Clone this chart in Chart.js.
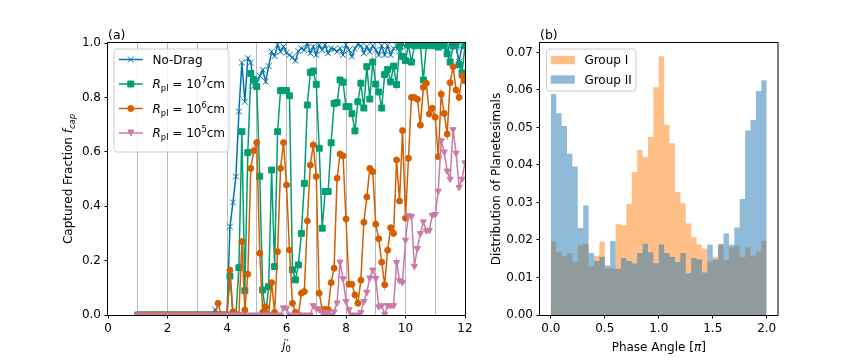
<!DOCTYPE html>
<html>
<head>
<meta charset="utf-8">
<script src="https://cdn.jsdelivr.net/npm/chart.js@4.4.0/dist/chart.umd.min.js"></script>
<style>
  html, body { margin: 0; padding: 0; background: #fff; }
  #wrap { position: relative; width: 864px; height: 360px; overflow: hidden; }
  canvas { position: absolute; top: 0; }
  #capChart { left: 0; }
  #phaseChart { left: 480px; }
</style>
</head>
<body>
<div id="wrap">
  <canvas id="capChart" width="480" height="360"></canvas>
  <canvas id="phaseChart" width="384" height="360"></canvas>
</div>
<script>
// ---- panel (a): captured fraction vs j0'
const jVals = [
  1.0, 1.1, 1.2, 1.3, 1.4, 1.5, 1.6, 1.7, 1.8, 1.9,
  2.0, 2.1, 2.2, 2.3, 2.4, 2.5, 2.6, 2.7, 2.8, 2.9,
  3.0, 3.1, 3.2, 3.3, 3.4, 3.5, 3.6, 3.7, 3.8, 3.9,
  4.0, 4.1, 4.2, 4.3, 4.4, 4.5, 4.6, 4.7, 4.8, 4.9,
  5.0, 5.1, 5.2, 5.3, 5.4, 5.5, 5.6, 5.7, 5.8, 5.9,
  6.0, 6.1, 6.2, 6.3, 6.4, 6.5, 6.6, 6.7, 6.8, 6.9,
  7.0, 7.1, 7.2, 7.3, 7.4, 7.5, 7.6, 7.7, 7.8, 7.9,
  8.0, 8.1, 8.2, 8.3, 8.4, 8.5, 8.6, 8.7, 8.8, 8.9,
  9.0, 9.1, 9.2, 9.3, 9.4, 9.5, 9.6, 9.7, 9.8, 9.9,
  10.0, 10.1, 10.2, 10.3, 10.4, 10.5, 10.6, 10.7, 10.8, 10.9,
  11.0, 11.1, 11.2, 11.3, 11.4, 11.5, 11.6, 11.7, 11.8, 11.9,
  12.0
];

const noDrag = [
  0, 0, 0, 0, 0, 0, 0, 0, 0, 0,
  0, 0, 0, 0, 0, 0, 0, 0, 0, 0,
  0, 0, 0, 0, 0, 0, 0.02, 0, 0, 0,
  0, 0.325, 0.414, 0.509, 0.748, 0.928, 0.784, 0.944, 0.928, 0.842,
  0.854, 0.879, 0.901, 0.858, 0.915, 0.968, 0.952, 0.993, 0.968, 0.987,
  0.964, 0.956, 0.947, 0.935, 0.97, 0.98, 0.974, 0.999, 0.962, 0.987,
  0.956, 0.993, 0.974, 0.993, 0.962, 0.98, 0.977, 0.968, 0.98, 0.956,
  0.993, 0.974, 0.95, 0.98, 0.995, 0.99, 0.962, 0.987, 0.968, 0.99,
  0.975, 0.956, 0.99, 0.956, 0.99, 0.956, 0.98, 0.99, 0.97, 1.0,
  0.985, 0.995, 0.99, 1.0, 0.99, 1.0, 0.995, 1.0, 0.99, 1.0,
  0.995, 1.0, 0.99, 1.0, 0.965, 1.0, 0.99, 0.985, 0.93, 0.99,
  1.0
];

const rpl1e7 = [
  0, 0, 0, 0, 0, 0, 0, 0, 0, 0,
  0, 0, 0, 0, 0, 0, 0, 0, 0, 0,
  0, 0, 0, 0, 0, 0, 0, 0, 0, 0,
  0, 0.143, 0, 0, 0.174, 0.674, 0.089, 0.597, 0.888, 0.866,
  0.84, 0.51, 0.092, 0, 0.104, 0.533, 0.178, 0.674, 0.825, 0.825,
  0.825, 0.806, 0.166, 0.129, 0.184, 0.30, 0.484, 0.772, 0.892, 0.897,
  0.848, 0.613, 0.319, 0.454, 0.454, 0.633, 0.778, 0.781, 0.864, 0.856,
  0.766, 0.766, 0.74, 0.677, 0.784, 0.852, 0.761, 0.913, 0.794, 0.93,
  0.849, 0.82, 0.761, 0.884, 0.903, 0.857, 0.915, 0.847, 0.987, 0.95,
  0.935, 0.995, 0.93, 0.99, 0.995, 0.99, 0.864, 0.99, 0.995, 0.99,
  0.995, 0.985, 0.995, 0.99, 0.96, 0.93, 0.99, 0.995, 0.92, 0.89,
  0.99
];

const rpl1e6 = [
  0, 0, 0, 0, 0, 0, 0, 0, 0, 0,
  0, 0, 0, 0, 0, 0, 0, 0, 0, 0,
  0, 0, 0, 0, 0, 0, 0, 0.043, 0, 0,
  0, 0.165, 0.012, 0, 0, 0.27, 0.018, 0.15, 0.539, 0.604,
  0.634, 0.227, 0.01, 0.03, 0, 0.119, 0.01, 0.233, 0.539, 0.634,
  0.478, 0.239, 0.043, 0.01, 0, 0.08, 0.086, 0.346, 0.551, 0.625,
  0.509, 0.08, 0.02, 0.02, 0.02, 0.119, 0.172, 0.503, 0.592, 0.585,
  0.353, 0.113, 0.113, 0.074, 0.043, 0.128, 0.341, 0.434, 0.539, 0.527,
  0.334, 0.28, 0.194, 0.111, 0.238, 0.321, 0.30, 0.57, 0.419, 0.678,
  0.356, 0.576, 0.80, 0.80, 0.793, 0.698, 0.837, 0.852, 0.739, 0.76,
  0.727, 0.582, 0.812, 0.741, 0.665, 0.854, 0.913, 0.827, 0.8, 0.879,
  0.86
];

const rpl1e5 = [
  0, 0, 0, 0, 0, 0, 0, 0, 0, 0,
  0, 0, 0, 0, 0, 0, 0, 0, 0, 0,
  0, 0, 0, 0, 0, 0, 0, 0, 0, 0,
  0, 0, 0, 0, 0, 0, 0, 0, 0, 0,
  0, 0, 0, 0, 0, 0, 0, 0, 0, 0.027,
  0.025, 0, 0, 0, 0, 0, 0, 0, 0, 0.035,
  0.025, 0.02, 0.01, 0, 0.01, 0, 0.012, 0.045, 0.195, 0.134,
  0.05, 0.02, 0, 0, 0, 0.01, 0.05, 0.084, 0.137, 0.166,
  0.135, 0.031, 0.035, 0.003, 0.035, 0.035, 0.035, 0.194, 0.127, 0.12,
  0.276, 0.366, 0.363, 0.18, 0.245, 0.30, 0.343, 0.31, 0.312, 0.367,
  0.37, 0.456, 0.641, 0.6, 0.53, 0.50, 0.682, 0.596, 0.47, 0.5,
  0.56
];

const capXTicks = [0, 2, 4, 6, 8, 10, 12];
const capYTicks = [0, 0.2, 0.4, 0.6, 0.8, 1.0];

// ---- panel (b): phase angle histograms (40 bins over 0..2 pi)
const phaseEdges = [
  0.00, 0.05, 0.10, 0.15, 0.20, 0.25, 0.30, 0.35, 0.40, 0.45,
  0.50, 0.55, 0.60, 0.65, 0.70, 0.75, 0.80, 0.85, 0.90, 0.95,
  1.00, 1.05, 1.10, 1.15, 1.20, 1.25, 1.30, 1.35, 1.40, 1.45,
  1.50, 1.55, 1.60, 1.65, 1.70, 1.75, 1.80, 1.85, 1.90, 1.95,
  2.00
];
const groupI = [
  0.0196, 0.0169, 0.0158, 0.0165, 0.0142, 0.0185, 0.0190, 0.0130, 0.0158, 0.0195,
  0.0124, 0.0124, 0.0242, 0.0239, 0.0296, 0.0381, 0.0440, 0.0421, 0.0475, 0.0607,
  0.0690, 0.0507, 0.0458, 0.0328, 0.0298, 0.0244, 0.0207, 0.0188, 0.0177, 0.0142,
  0.0155, 0.0190, 0.0146, 0.0180, 0.0185, 0.0154, 0.0180, 0.0158, 0.0169, 0.0198
];
const groupII = [
  0.0589, 0.0538, 0.0504, 0.0430, 0.0396, 0.0232, 0.0292, 0.0165, 0.0144, 0.0155,
  0.0132, 0.0197, 0.0123, 0.0152, 0.0144, 0.0137, 0.0165, 0.0190, 0.0167, 0.0138,
  0.0188, 0.0165, 0.0155, 0.0141, 0.0165, 0.0111, 0.0152, 0.0148, 0.0113, 0.0187,
  0.0148, 0.0188, 0.0217, 0.0187, 0.0233, 0.0309, 0.0492, 0.0520, 0.0597, 0.0626
];
const phaseXTicks = [0, 0.5, 1.0, 1.5, 2.0];
const phaseYTicks = [0, 0.01, 0.02, 0.03, 0.04, 0.05, 0.06, 0.07];

const C_BLUE = "#0072B2", C_GREEN = "#009E73", C_ORANGE = "#D55E00", C_PINK = "#CC79A7";
const H_ORANGE = "rgba(255,127,14,0.5)", H_BLUE = "rgba(31,119,180,0.5)";

const FONT = "'DejaVu Sans', sans-serif";
Chart.defaults.font.family = FONT;
Chart.defaults.font.size = 12;
Chart.defaults.color = "#000";
Chart.defaults.animation = false;

function fontStr(size, italic) {
  return (italic ? "italic " : "") + size + "px " + FONT;
}

// parts: [text, size, italic, dy]
function richWidth(ctx, parts) {
  let w = 0;
  for (const [t, s, it] of parts) {
    ctx.font = fontStr(s, it);
    w += ctx.measureText(t).width;
  }
  return w;
}

function drawRich(ctx, parts, x, y, align) {
  let cx = align === "center" ? x - richWidth(ctx, parts) / 2 : x;
  ctx.textAlign = "left";
  ctx.textBaseline = "alphabetic";
  for (const [t, s, it, dy] of parts) {
    ctx.font = fontStr(s, it);
    ctx.fillText(t, cx, y + (dy || 0));
    cx += ctx.measureText(t).width;
  }
}

function roundBox(ctx, x, y, w, h, r) {
  ctx.save();
  ctx.beginPath();
  ctx.moveTo(x + r, y);
  ctx.arcTo(x + w, y, x + w, y + h, r);
  ctx.arcTo(x + w, y + h, x, y + h, r);
  ctx.arcTo(x, y + h, x, y, r);
  ctx.arcTo(x, y, x + w, y, r);
  ctx.closePath();
  ctx.fillStyle = "rgba(255,255,255,0.8)";
  ctx.fill();
  ctx.strokeStyle = "#cccccc";
  ctx.lineWidth = 1;
  ctx.stroke();
  ctx.restore();
}

function drawMarker(ctx, style, x, y, color) {
  ctx.save();
  ctx.fillStyle = color;
  ctx.strokeStyle = color;
  ctx.lineWidth = 1;
  ctx.beginPath();
  if (style === "crossRot") {
    ctx.moveTo(x - 3, y - 3); ctx.lineTo(x + 3, y + 3);
    ctx.moveTo(x + 3, y - 3); ctx.lineTo(x - 3, y + 3);
    ctx.stroke();
  } else if (style === "rect") {
    ctx.rect(x - 3, y - 3, 6, 6); ctx.fill(); ctx.stroke();
  } else if (style === "circle") {
    ctx.arc(x, y, 3, 0, Math.PI * 2); ctx.fill(); ctx.stroke();
  } else {
    ctx.moveTo(x - 3, y - 3); ctx.lineTo(x + 3, y - 3); ctx.lineTo(x, y + 3);
    ctx.closePath(); ctx.fill(); ctx.stroke();
  }
  ctx.restore();
}

const framePlugin = {
  id: "frame",
  afterDatasetsDraw(chart) {
    const { ctx, chartArea: a } = chart;
    ctx.save();
    ctx.strokeStyle = "#000";
    ctx.lineWidth = 1;
    ctx.strokeRect(a.left - 0.5, a.top - 0.5, a.right - a.left + 1, a.bottom - a.top + 1);
    ctx.restore();
  }
};

function lineSet(label, vals, color, style, radius, rotation, order) {
  return {
    label,
    data: vals.map((v, i) => ({ x: jVals[i], y: v })),
    borderColor: color,
    backgroundColor: color,
    pointBackgroundColor: color,
    pointBorderColor: color,
    borderWidth: 1.5,
    pointStyle: style,
    pointRadius: radius,
    pointRotation: rotation,
    pointBorderWidth: 1,
    tension: 0,
    fill: false,
    clip: 0,
    order
  };
}

const capLegend = [
  { color: C_BLUE, style: "crossRot", y: 59.5, parts: [["No-Drag", 12, false]] },
  { color: C_GREEN, style: "rect", y: 84, parts: [["R", 12, true], ["pl", 8.4, false, 3], [" = 10", 12, false], ["7", 8.4, false, -5], ["cm", 12, false]] },
  { color: C_ORANGE, style: "circle", y: 108.5, parts: [["R", 12, true], ["pl", 8.4, false, 3], [" = 10", 12, false], ["6", 8.4, false, -5], ["cm", 12, false]] },
  { color: C_PINK, style: "triangleDown", y: 133, parts: [["R", 12, true], ["pl", 8.4, false, 3], [" = 10", 12, false], ["5", 8.4, false, -5], ["cm", 12, false]] }
];

const capText = {
  id: "capText",
  afterDraw(chart) {
    const { ctx, chartArea: a } = chart;
    ctx.save();
    ctx.fillStyle = "#000";
    drawRich(ctx, [["(a)", 12.5, false]], a.left, 39, "left");

    // y title
    ctx.save();
    ctx.translate(72, (a.top + a.bottom) / 2);
    ctx.rotate(-Math.PI / 2);
    drawRich(ctx, [["Captured Fraction ", 12, false], ["f", 12, true], ["cap", 8.4, true, 3]], 0, 0, "center");
    ctx.restore();

    // x title j'_0
    ctx.font = fontStr(12, true);
    const jw = ctx.measureText("j").width;
    ctx.font = fontStr(8.4, false);
    const zw = ctx.measureText("0").width;
    const x0 = (a.left + a.right) / 2 - (jw + zw) / 2;
    ctx.textAlign = "left";
    ctx.textBaseline = "alphabetic";
    ctx.font = fontStr(12, true);
    ctx.fillText("j", x0, 349);
    ctx.font = fontStr(8.4, false);
    ctx.fillText("0", x0 + jw, 352);
    ctx.font = fontStr(10, false);
    ctx.fillText("\u2032", x0 + jw + 1, 347);

    // legend
    roundBox(ctx, 114, 49, 115, 103, 3);
    for (const row of capLegend) {
      ctx.save();
      ctx.strokeStyle = row.color;
      ctx.lineWidth = 1.5;
      ctx.beginPath();
      ctx.moveTo(118.8, row.y);
      ctx.lineTo(142.8, row.y);
      ctx.stroke();
      ctx.restore();
      drawMarker(ctx, row.style, 130.8, row.y, row.color);
      ctx.fillStyle = "#000";
      drawRich(ctx, row.parts, 152.5, row.y + 4.4, "left");
    }
    ctx.restore();
  }
};

new Chart(document.getElementById("capChart"), {
  type: "line",
  data: {
    datasets: [
      lineSet("No-Drag", noDrag, C_BLUE, "crossRot", 4.2, 0, 3),
      lineSet("R_pl = 10^7 cm", rpl1e7, C_GREEN, "rect", 4.2, 0, 2),
      lineSet("R_pl = 10^6 cm", rpl1e6, C_ORANGE, "circle", 3, 0, 1),
      lineSet("R_pl = 10^5 cm", rpl1e5, C_PINK, "triangle", 3.6, 180, 0)
    ]
  },
  options: {
    responsive: false,
    devicePixelRatio: 1,
    layout: { padding: { left: 0, top: 43, right: 15, bottom: 0 } },
    plugins: { legend: { display: false }, tooltip: { enabled: false } },
    scales: {
      x: {
        type: "linear",
        min: 0,
        max: 12,
        ticks: {
          stepSize: 1,
          autoSkip: false,
          maxRotation: 0,
          padding: 3,
          color: "#000",
          callback: (v) => (capXTicks.includes(v) ? String(v) : "")
        },
        grid: {
          lineWidth: 1,
          color: (c) => (c.tick && c.tick.value > 0 && c.tick.value < 12 ? "#b8b8b8" : "rgba(0,0,0,0)"),
          tickLength: 3.5,
          tickColor: (c) => (c.tick && capXTicks.includes(c.tick.value) ? "#000" : "rgba(0,0,0,0)")
        },
        border: { display: false },
        afterFit: (s) => { s.height = 45; }
      },
      y: {
        min: 0,
        max: 1,
        afterBuildTicks: (axis) => { axis.ticks = capYTicks.map((v) => ({ value: v })); },
        ticks: { padding: 3.5, color: "#000", callback: (v) => v.toFixed(1) },
        grid: { drawOnChartArea: false, tickLength: 3.5, tickColor: "#000" },
        border: { display: false },
        afterFit: (s) => { s.width = 108; }
      }
    }
  },
  plugins: [framePlugin, capText]
});

const phaseLegend = [
  { color: H_ORANGE, y: 60, text: "Group I" },
  { color: H_BLUE, y: 79.5, text: "Group II" }
];

const phaseText = {
  id: "phaseText",
  afterDraw(chart) {
    const { ctx, chartArea: a } = chart;
    ctx.save();
    ctx.fillStyle = "#000";
    drawRich(ctx, [["(b)", 12.5, false]], a.left, 39, "left");

    ctx.save();
    ctx.translate(20, (a.top + a.bottom) / 2);
    ctx.rotate(-Math.PI / 2);
    drawRich(ctx, [["Distribution of Planetesimals", 12, false]], 0, 0, "center");
    ctx.restore();

    drawRich(ctx, [["Phase Angle [", 12, false], ["\u03c0", 12, true], ["]", 12, false]], (a.left + a.right) / 2, 350.5, "center");

    roundBox(ctx, 66.5, 49, 89.5, 42, 3);
    for (const row of phaseLegend) {
      ctx.fillStyle = row.color;
      ctx.fillRect(70.8, row.y - 4.2, 24, 8.4);
      ctx.fillStyle = "#000";
      drawRich(ctx, [[row.text, 12, false]], 104.4, row.y + 4.4, "left");
    }
    ctx.restore();
  }
};

// histogram as step-filled areas: each bin value holds from its left edge to the next edge
function histSet(label, vals, color, order) {
  return {
    label,
    data: phaseEdges.map((e, i) => ({ x: e, y: vals[Math.min(i, vals.length - 1)] })),
    stepped: "before",
    fill: "origin",
    backgroundColor: color,
    borderWidth: 0,
    borderColor: "rgba(0,0,0,0)",
    pointRadius: 0,
    order
  };
}

new Chart(document.getElementById("phaseChart"), {
  type: "line",
  data: {
    datasets: [
      histSet("Group I", groupI, H_ORANGE, 1),
      histSet("Group II", groupII, H_BLUE, 0)
    ]
  },
  options: {
    responsive: false,
    devicePixelRatio: 1,
    layout: { padding: { left: 0, top: 43, right: 86.5, bottom: 0 } },
    plugins: { legend: { display: false }, tooltip: { enabled: false } },
    scales: {
      x: {
        type: "linear",
        min: -0.1,
        max: 2.1,
        afterBuildTicks: (axis) => { axis.ticks = phaseXTicks.map((v) => ({ value: v })); },
        ticks: { padding: 3, maxRotation: 0, color: "#000", callback: (v) => v.toFixed(1) },
        grid: { drawOnChartArea: false, tickLength: 3.5, tickColor: "#000" },
        border: { display: false },
        afterFit: (s) => { s.height = 45; }
      },
      y: {
        min: 0,
        max: 0.0725,
        afterBuildTicks: (axis) => { axis.ticks = phaseYTicks.map((v) => ({ value: v })); },
        ticks: { padding: 3.5, color: "#000", callback: (v) => v.toFixed(2) },
        grid: { drawOnChartArea: false, tickLength: 3.5, tickColor: "#000" },
        border: { display: false },
        afterFit: (s) => { s.width = 60; }
      }
    }
  },
  plugins: [framePlugin, phaseText]
});
</script>
</body>
</html>
